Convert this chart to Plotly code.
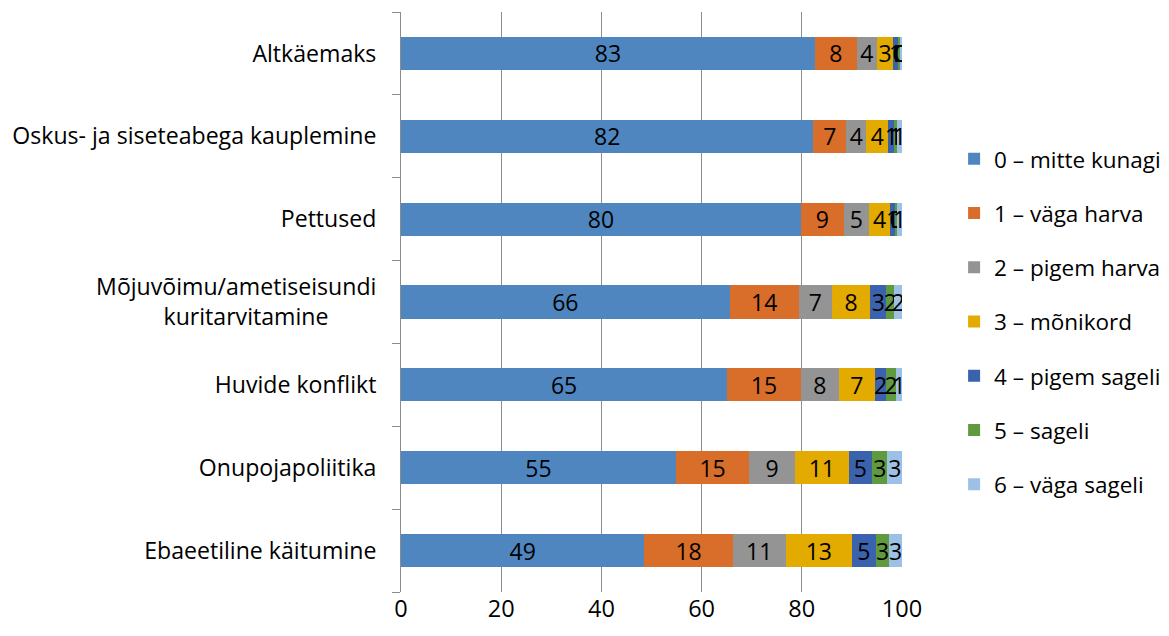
import plotly.graph_objects as go

categories = [
    "Altkäemaks",
    "Oskus- ja siseteabega kauplemine",
    "Pettused",
    "Mõjuvõimu/ametiseisundi<br>kuritarvitamine\u00a0\u00a0\u00a0\u00a0\u00a0\u00a0\u00a0\u00a0",
    "Huvide konflikt",
    "Onupojapoliitika",
    "Ebaeetiline käitumine",
]

series_names = [
    "0 – mitte kunagi",
    "1 – väga harva",
    "2 – pigem harva",
    "3 – mõnikord",
    "4 – pigem sageli",
    "5 – sageli",
    "6 – väga sageli",
]

s0 = [82.6, 82.3, 79.8, 65.6, 65.1, 54.9, 48.6]
s1 = [8.4, 6.6, 8.6, 13.8, 14.7, 14.6, 17.6]
s2 = [4.0, 4.0, 5.0, 6.6, 7.6, 9.1, 10.6]
s3 = [3.2, 4.4, 4.2, 7.7, 7.2, 10.8, 13.2]
s4 = [1.0, 1.1, 1.0, 3.1, 2.2, 4.6, 4.8]
s5 = [0.4, 0.6, 0.4, 1.7, 2.0, 3.1, 2.6]
s6 = [0.4, 1.0, 1.0, 1.5, 1.2, 2.9, 2.6]

values = [s0, s1, s2, s3, s4, s5, s6]
colors = ["#4F86C0", "#D96D2A", "#949494", "#E3AA00", "#3B62AD", "#5F9A3F", "#9CC0E6"]

x_ticks = [0, 20, 40, 60, 80, 100]

font_family = "'Open Sans', sans-serif"

fig = go.Figure()
for i, (name, vals, col) in enumerate(zip(series_names, values, colors)):
    fig.add_trace(go.Bar(
        y=categories,
        x=vals,
        name=name,
        legendgroup=f"g{i}",
        orientation="h",
        marker=dict(color=col, line=dict(width=0)),
        text=[f"{round(v + 1e-9):.0f}" for v in vals],
        textposition="inside",
        insidetextanchor="middle",
        constraintext="none",
        textangle=0,
        textfont=dict(color="black", size=23, family=font_family),
        hoverinfo="x+y+name",
    ))

fig.update_layout(
    barmode="stack",
    bargap=0.6,
    width=1161,
    height=628,
    margin=dict(l=393, r=267, t=4, b=44, autoexpand=False),
    paper_bgcolor="white",
    plot_bgcolor="white",
    font=dict(family=font_family, size=23, color="black"),
    legend=dict(
        x=1.104, y=0.466, xanchor="left", yanchor="middle",
        font=dict(size=22.5),
        traceorder="grouped",
        itemsizing="constant",
        tracegroupgap=22,
        itemwidth=30,
    ),
    showlegend=True,
)

fig.update_xaxes(
    range=[0, 100],
    tickvals=x_ticks,
    showgrid=True,
    gridcolor="#8C8C8C",
    gridwidth=1,
    zeroline=False,
    showline=False,
    ticks="",
    tickfont=dict(size=23.5),
    automargin=False,
)

fig.update_yaxes(
    categoryorder="array",
    categoryarray=categories[::-1],
    showline=True,
    linecolor="#8C8C8C",
    linewidth=1,
    ticks="outside",
    tickson="boundaries",
    ticklen=8,
    tickcolor="#8C8C8C",
    ticklabelstandoff=19,
    tickfont=dict(size=23.1),
    showgrid=False,
    automargin=False,
)

fig.write_html("out.html")
